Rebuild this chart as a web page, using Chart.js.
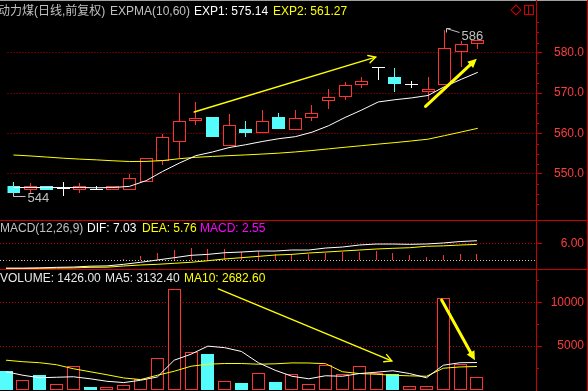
<!DOCTYPE html>
<html><head><meta charset="utf-8">
<script src="https://cdn.jsdelivr.net/npm/chart.js@4.4.1/dist/chart.umd.min.js"></script>
<style>
html,body{margin:0;padding:0;background:#000;}
#wrap{position:relative;width:588px;height:391px;overflow:hidden;background:#000;font-family:"Liberation Sans",Arial,"Noto Sans CJK SC",sans-serif;font-size:12px;}
canvas{position:absolute;left:0;}
.t{position:absolute;white-space:nowrap;line-height:14px;}
.ln{position:absolute;background:#c80000;}
</style></head><body>
<div id="wrap">
<canvas id="cPrice" width="588" height="220" style="top:0"></canvas>
<canvas id="cMacd" width="588" height="48" style="top:221px"></canvas>
<canvas id="cVol" width="588" height="121" style="top:270px"></canvas>
<div class="ln" style="left:0;top:0;width:588px;height:1px;background:#a0a0a0"></div>
<div class="ln" style="left:0;top:220px;width:588px;height:1px"></div>
<div class="ln" style="left:0;top:269px;width:588px;height:1px"></div>
<div class="ln" style="left:536px;top:0;width:1px;height:391px"></div>
<div class="ln" style="left:587px;top:0;width:1px;height:391px"></div>
<div style="position:absolute;left:512px;top:6px;width:6px;height:6px;border:1px solid #d00000;transform:rotate(45deg)"></div>
<div style="position:absolute;left:524px;top:5px;width:8px;height:8px;border:1px solid #d00000"></div>
<div style="position:absolute;left:528px;top:5px;width:1px;height:10px;background:#d00000"></div>
<span class="t" id="hName" style="left:-2px;top:4px;color:#c0c0c0"></span>
<span class="t" id="hInd" style="left:110px;top:4px;color:#c0c0c0"></span>
<span class="t" id="hE1" style="left:194px;top:4px;color:#ffffff"></span>
<span class="t" id="hE2" style="left:273px;top:4px;color:#ffff00"></span>
<span class="t" id="mName" style="left:0px;top:221px;color:#c0c0c0"></span>
<span class="t" id="mDif" style="left:87px;top:221px;color:#ffffff"></span>
<span class="t" id="mDea" style="left:142px;top:221px;color:#ffff00"></span>
<span class="t" id="mMacd" style="left:200px;top:221px;color:#ff00ff"></span>
<span class="t" id="vVol" style="left:0px;top:271px;color:#e8e8e8"></span>
<span class="t" id="vMa5" style="left:105px;top:271px;color:#e8e8e8"></span>
<span class="t" id="vMa10" style="left:184px;top:271px;color:#ffff00"></span>
</div>
<script>
// ---------------- data ----------------
const DAYS   = [0,1,2,3,4,5,6,7,8,9,10,11,12,13,14,15,16,17,18,19,20,21,22,23,24,25,26,27,28];
const OPEN   = [547.1,545.9,547.1,546.35,545.9,546.1,545.9,545.9,548.0,553.1,557.9,563.0,564.0,557.0,561.0,560.0,564.0,560.8,563.9,567.95,569.0,572.0,576.35,574.1,572.2,570.2,572.0,580.05,582.1];
const HIGH   = [548.0,547.8,547.1,548.0,547.8,546.9,547.0,549.9,554.0,559.8,570.0,567.9,564.0,564.9,563.0,565.7,565.1,565.7,567.0,570.9,572.7,573.9,576.35,576.2,573.1,573.9,585.6,583.0,583.9];
const LOW    = [544.4,545.3,546.0,544.5,545.3,545.95,545.9,545.9,548.0,552.2,554.0,562.2,559.2,557.0,559.2,560.0,561.0,560.8,563.2,566.1,568.3,571.2,573.35,570.3,571.2,568.3,572.0,576.35,581.0];
const CLOSE  = [545.2,547.0,546.0,546.35,547.0,546.1,547.0,548.9,554.0,559.05,563.0,563.9,559.2,562.05,560.2,563.0,561.0,563.9,565.1,569.05,572.0,573.1,576.35,572.2,572.2,571.05,581.05,582.1,583.1];
const EXP1   = [546.6,546.6,546.6,546.6,546.6,546.55,546.6,546.9,548.3,550.6,552.65,554.5,555.4,556.5,557.2,558.0,558.7,559.2,560.3,561.9,563.96,565.8,567.8,568.35,568.8,569.4,571.6,573.4,575.14];
const EXP2   = [554.66,554.43,554.15,553.87,553.64,553.46,553.23,553.05,553.07,553.28,553.74,554.08,554.31,554.5,554.68,554.89,555.12,555.42,555.77,556.18,556.58,556.97,557.36,557.73,558.14,558.58,559.46,560.36,561.27];
const DIF    = [-2.5,-2.5,-2.4,-2.2,-2.1,-1.8,-1.7,-1.15,-0.45,0.35,1.14,1.97,2.3,2.87,3.11,3.46,3.46,3.8,3.8,4.5,4.84,5.54,5.88,5.88,5.78,5.9,6.25,6.75,7.03];
const DEA    = [-2.55,-2.55,-2.5,-2.45,-2.4,-2.2,-2.15,-1.73,-1.38,-1.15,-0.8,-0.45,0.1,0.7,1.15,1.6,2.07,2.3,2.77,3.1,3.46,3.8,4.15,4.4,4.6,5.1,5.25,5.54,5.76];
const MACD   = [0.1,0.1,0.2,0.2,0.3,0.3,0.4,0.7,1.7,2.8,3.9,4.5,4.0,4.0,3.2,3.5,2.5,2.5,2.3,2.65,3.0,3.0,3.4,2.65,1.95,1.4,1.95,2.3,2.55];
const VOLUME = [2139,1190,1682,652,2711,309,309,618,1304,3592,11520,4278,4084,1075,767,1990,881,1796,652,2826,1796,2711,1945,1876,423,423,10450,2940,1426];
const VOL_MA5  = [2082,1682,1396,1453,1510,1281,995,847,1110,1487,3398,4084,5000,4828,4393,3112,2254,1567,1281,1624,1567,1876,2025,2196,1876,1396,2826,3112,3132.4];
const VOL_MA10 = [3398,3226,3112,2883,2425,2082,1739,1373,1190,1682,2139,2711,2940,3020,3020,2940,2986,3089,3077,2997,2082,1876,1796,1682,1613,1567,2483,2631,2682.6];
const PRICE_TICKS = [550,560,570,580];
const MACD_TICKS  = [0,6];
const VOL_TICKS   = [5000,10000];
const TITLE = '动力煤(日线,前复权)';
// hand-drawn annotation arrows, in data units [index, value]
const PRICE_ARROWS = [{from:[10.9,565.3],to:[21.84,578.9],kind:'open'},{from:[24.85,566.7],to:[27.94,578.5],kind:'solid'}];
const VOL_ARROWS   = [{from:[12.62,11520],to:[22.93,3318],kind:'open'},{from:[25.9,10262],to:[27.88,3398],kind:'solid'}];

// ---------------- styles ----------------
const RED='#ff3232', CYAN='#54fcfc', WHITE='#ffffff', YEL='#ffff00';
const AXIS_RED='#c80000', GRID_RED='#c00000', LBL_RED='#ff3c3c';
const FONT_FAMILY='"Liberation Sans", Arial, sans-serif';
const X_MIN=-0.357, X_MAX=31.51;

// header texts
const last = a => a[a.length-1];
document.getElementById('hName').textContent = TITLE;
document.getElementById('hInd').textContent = 'EXPMA(10,60)';
document.getElementById('hE1').textContent = 'EXP1: ' + last(EXP1).toFixed(2);
document.getElementById('hE2').textContent = 'EXP2: ' + last(EXP2).toFixed(2);
document.getElementById('mName').textContent = 'MACD(12,26,9)';
document.getElementById('mDif').textContent = 'DIF: ' + last(DIF).toFixed(2);
document.getElementById('mDea').textContent = 'DEA: ' + last(DEA).toFixed(2);
document.getElementById('mMacd').textContent = 'MACD: ' + last(MACD).toFixed(2);
document.getElementById('vVol').textContent = 'VOLUME: ' + last(VOLUME).toFixed(2);
document.getElementById('vMa5').textContent = 'MA5: ' + last(VOL_MA5).toFixed(2);
document.getElementById('vMa10').textContent = 'MA10: ' + last(VOL_MA10).toFixed(2);

const isDoji = i => OPEN[i] === CLOSE[i];
const isUp = i => CLOSE[i] > OPEN[i];
const candleColor = i => isDoji(i) ? WHITE : (isUp(i) ? RED : CYAN);
const volUp = i => isDoji(i) ? (i === 0 || CLOSE[i] >= CLOSE[i-1]) : isUp(i);

const measure = (() => { const c=document.createElement('canvas').getContext('2d'); c.font='12px '+FONT_FAMILY; return s => c.measureText(s).width; })();

function yScale(min, max, majors, fmt, gridColorFn, tickColorFn) {
  const widest = Math.max(...majors.map(v => measure(fmt(v))));
  return {
    position:'right', min, max,
    afterBuildTicks: s => { s.ticks = majors.map(v => ({value:v})); },
    afterFit: s => { s.width = 48; s.paddingTop = 0; s.paddingBottom = 0; },
    ticks: { color: LBL_RED, font:{family:FONT_FAMILY, size:12}, crossAlign:'far', padding: Math.max(0, 42 - widest), callback: v => fmt(v) },
    grid: { color: gridColorFn || (() => GRID_RED), lineWidth:1, drawTicks:true, tickLength:6, tickWidth:1, tickColor: tickColorFn || (() => AXIS_RED), drawOnChartArea:true },
    border: { display:false, dash:[1,2] }
  };
}
const xScale = { type:'linear', display:false, min:X_MIN, max:X_MAX, offset:false, grid:{display:false} };

// snap bar / marker elements to the pixel grid so 1px borders stay crisp
const snap = { id:'snap', afterDatasetsUpdate(chart) {
  chart.data.datasets.forEach((ds, di) => {
    const meta = chart.getDatasetMeta(di);
    if (meta.type === 'bar') {
      meta.data.forEach(el => { el.x = Math.floor(el.x) + 0.5; el.y = Math.round(el.y); el.base = Math.round(el.base); });
    } else if (ds.showLine === false) {
      meta.data.forEach(el => { el.x = Math.floor(el.x) + 0.5; el.y = Math.floor(el.y) + 0.5; });
    }
  });
}};

function minorTicks(vals) {
  return { id:'minorTicks', afterDraw(chart) {
    const s = chart.scales.y, ctx = chart.ctx;
    ctx.save(); ctx.strokeStyle = AXIS_RED; ctx.lineWidth = 1;
    vals.forEach(v => { const yy = Math.round(s.getPixelForValue(v)) + 0.5; if (yy < s.top || yy > s.bottom) return;
      ctx.beginPath(); ctx.moveTo(s.left, yy); ctx.lineTo(s.left + 3, yy); ctx.stroke(); });
    ctx.restore();
  }};
}

function drawArrow(ctx, x1, y1, x2, y2, kind) {
  const a = Math.atan2(y2-y1, x2-x1);
  ctx.save(); ctx.strokeStyle = YEL; ctx.fillStyle = YEL; ctx.lineCap = 'round';
  if (kind === 'open') {
    ctx.lineWidth = 1.4;
    ctx.beginPath(); ctx.moveTo(x1,y1); ctx.lineTo(x2,y2); ctx.stroke();
    const L = 8, sp = 0.5;
    ctx.beginPath();
    ctx.moveTo(x2 - L*Math.cos(a-sp), y2 - L*Math.sin(a-sp)); ctx.lineTo(x2,y2);
    ctx.lineTo(x2 - L*Math.cos(a+sp), y2 - L*Math.sin(a+sp)); ctx.stroke();
  } else {
    const L = 10, sp = 0.45;
    ctx.lineWidth = 3;
    ctx.beginPath(); ctx.moveTo(x1,y1); ctx.lineTo(x2 - (L-2)*Math.cos(a), y2 - (L-2)*Math.sin(a)); ctx.stroke();
    ctx.beginPath(); ctx.moveTo(x2,y2);
    ctx.lineTo(x2 - L*Math.cos(a-sp), y2 - L*Math.sin(a-sp));
    ctx.lineTo(x2 - L*Math.cos(a+sp), y2 - L*Math.sin(a+sp)); ctx.closePath(); ctx.fill();
  }
  ctx.restore();
}
function arrowsPlugin(list) {
  return { id:'arrows', afterDatasetsDraw(chart) {
    const {x, y} = chart.scales, ctx = chart.ctx;
    list.forEach(r => drawArrow(ctx, x.getPixelForValue(r.from[0]), y.getPixelForValue(r.from[1]), x.getPixelForValue(r.to[0]), y.getPixelForValue(r.to[1]), r.kind));
  }};
}
const extremes = { id:'extremes', afterDatasetsDraw(chart) {
  const {x, y} = chart.scales, ctx = chart.ctx;
  let iMax = 0, iMin = 0;
  DAYS.forEach(i => { if (HIGH[i] > HIGH[iMax]) iMax = i; if (LOW[i] < LOW[iMin]) iMin = i; });
  ctx.save(); ctx.strokeStyle = '#c0c0c0'; ctx.fillStyle = '#c0c0c0'; ctx.lineWidth = 1;
  ctx.font = '13px ' + FONT_FAMILY; ctx.textBaseline = 'middle'; ctx.textAlign = 'left';
  let tx = Math.round(x.getPixelForValue(iMax)) + 1.5, ty = Math.round(y.getPixelForValue(HIGH[iMax])) - 1.5;
  ctx.beginPath(); ctx.moveTo(tx+4, ty); ctx.lineTo(tx, ty); ctx.lineTo(tx, ty+4); ctx.moveTo(tx, ty); ctx.lineTo(tx+13, ty+4); ctx.stroke();
  ctx.fillText(String(Math.round(HIGH[iMax])), tx+15, ty+8);
  tx = Math.round(x.getPixelForValue(iMin)) + 0.5; ty = Math.round(y.getPixelForValue(LOW[iMin])) + 0.5;
  ctx.beginPath(); ctx.moveTo(tx+4, ty); ctx.lineTo(tx, ty); ctx.lineTo(tx, ty-4); ctx.moveTo(tx, ty); ctx.lineTo(tx+12, ty); ctx.stroke();
  ctx.fillText(String(Math.round(LOW[iMin])), tx+14, ty+2);
  ctx.restore();
}};

const base = { responsive:false, animation:false, devicePixelRatio:1, events:[],
  layout:{ padding:{left:0,right:4,top:0,bottom:0} },
  plugins:{ legend:{display:false}, tooltip:{enabled:false} } };
const lineDs = (data, color, order) => ({ type:'line', data: DAYS.map(i => ({x:i, y:data[i]})), borderColor:color, borderWidth:1, pointRadius:0, tension:0, order });

// ---------------- price chart ----------------
const nonDoji = DAYS.filter(i => !isDoji(i));
const doji = DAYS.filter(i => isDoji(i));
const priceMinors = []; for (let v = 542.5; v <= 590; v += 2.5) if (v % 10 !== 0) priceMinors.push(v);
new Chart(document.getElementById('cPrice'), {
  type:'bar',
  data:{ datasets:[
    { type:'bar', data: DAYS.map(i => ({x:i, y:[LOW[i], HIGH[i]]})), backgroundColor: c => candleColor(DAYS[c.dataIndex]), borderWidth:0, barThickness:1, grouped:false, inflateAmount:0, order:6 },
    { type:'bar', data: nonDoji.map(i => ({x:i, y:[OPEN[i], CLOSE[i]]})), backgroundColor: c => isUp(nonDoji[c.dataIndex]) ? '#000000' : CYAN, borderColor: c => candleColor(nonDoji[c.dataIndex]), borderWidth:1, borderSkipped:false, barThickness:13, grouped:false, inflateAmount:0, order:5 },
    { type:'line', data: doji.map(i => ({x:i, y:OPEN[i]})), showLine:false, pointStyle:'line', pointRadius:6.5, pointBorderColor:WHITE, pointBorderWidth:1, borderColor:WHITE, order:4 },
    lineDs(EXP2, YEL, 2),
    lineDs(EXP1, WHITE, 1)
  ]},
  options:{ ...base, scales:{ x:xScale, y: yScale(540.42, 591.19, PRICE_TICKS, v => v.toFixed(1)) } },
  plugins:[snap, minorTicks(priceMinors), arrowsPlugin(PRICE_ARROWS), extremes]
});

// ---------------- MACD chart ----------------
new Chart(document.getElementById('cMacd'), {
  type:'bar',
  data:{ datasets:[
    { type:'bar', data: DAYS.map(i => ({x:i, y:MACD[i]})), backgroundColor: RED, borderWidth:0, barThickness:1, grouped:false, inflateAmount:0, order:3 },
    lineDs(DEA, YEL, 2),
    lineDs(DIF, WHITE, 1)
  ]},
  options:{ ...base, scales:{ x:xScale, y: yScale(-2.775, 13.87, MACD_TICKS, v => v === 0 ? '' : v.toFixed(2),
    c => (c.tick && c.tick.value === 0) ? '#c8c8c8' : GRID_RED,
    c => (c.tick && c.tick.value === 0) ? 'rgba(0,0,0,0)' : AXIS_RED) } },
  plugins:[snap]
});

// ---------------- volume chart ----------------
new Chart(document.getElementById('cVol'), {
  type:'bar',
  data:{ datasets:[
    { type:'bar', data: DAYS.map(i => ({x:i, y:VOLUME[i]})), backgroundColor: c => volUp(c.dataIndex) ? '#000000' : CYAN, borderColor: c => volUp(c.dataIndex) ? RED : CYAN, borderWidth:1, borderSkipped:false, barThickness:13, grouped:false, inflateAmount:0, order:3 },
    lineDs(VOL_MA10, YEL, 2),
    lineDs(VOL_MA5, WHITE, 1)
  ]},
  options:{ ...base, scales:{ x:xScale, y: yScale(-114, 13683, VOL_TICKS, v => String(v)) } },
  plugins:[snap, minorTicks([2500,7500,12500]), arrowsPlugin(VOL_ARROWS)]
});
</script>
</body></html>
